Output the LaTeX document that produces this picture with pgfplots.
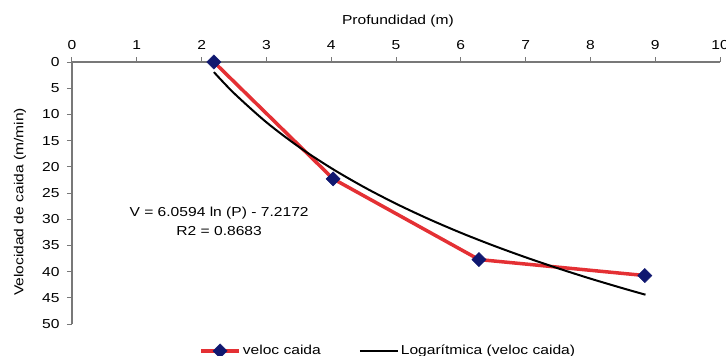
\documentclass[border=0pt]{standalone}
\usepackage{fontspec}
\setmainfont{Liberation Sans}[FakeStretch=1.2]
\usepackage{pgfplots}
\pgfplotsset{compat=1.18}
\definecolor{redline}{RGB}{228,48,52}
\definecolor{navy}{RGB}{16,24,112}
\definecolor{axgray}{RGB}{120,120,120}
\begin{document}
\fontsize{13bp}{15bp}\selectfont
\begin{tikzpicture}
\useasboundingbox (-72bp,62bp) rectangle (654bp,-294bp);
\begin{axis}[
  at={(0,0)}, anchor=north west,
  scale only axis, width=648bp, height=262bp,
  xmin=0, xmax=10, ymin=0, ymax=50, y dir=reverse,
  axis x line*=top, axis y line*=left,
  axis line style={axgray, line width=1.2bp, -},
  tick style={axgray, line width=1bp},
  tick align=outside, major tick length=5bp,
  xtick={0,1,...,10}, ytick={0,5,...,50},
  xticklabel style={yshift=3bp},
  yticklabel style={xshift=-3bp},
  /pgf/number format/assume math mode=true,
  ticklabel style={font=\fontsize{13bp}{15bp}\selectfont},
  xlabel={Profundidad (m)},
  xlabel style={at={(axis description cs:0.503,1)}, anchor=center, yshift=41bp},
  ylabel={Velocidad de caida (m/min)},
  ylabel style={at={(axis description cs:0,0.466)}, anchor=center, yshift=52bp},
  legend columns=2,
  legend cell align=left,
  legend style={draw=none, fill=none, at={(axis description cs:0.488,-0.103)}, anchor=center,
    font=\fontsize{13bp}{15bp}\selectfont,
    /tikz/every even column/.append style={column sep=36bp}},
  legend image code/.code={\draw[#1, mark repeat=2, mark phase=2] plot coordinates {(0bp,0bp)(19bp,0bp)(38bp,0bp)};},
  clip=false,
]
\addplot[redline, line width=3.5bp, mark=square*, mark size=5bp,
  mark options={navy, fill=navy, draw=navy, rotate=45, line width=0.5bp}]
  coordinates {(2.19,0) (4.03,22.3) (6.28,37.7) (8.84,40.75)};
\addlegendentry{veloc caida}
\addplot[black, line width=2bp, smooth]
  coordinates {(2.19,1.93) (2.5,5.95) (3,11.50) (3.5,16.19) (4,20.25) (4.5,23.83)
  (5,27.04) (5.5,29.94) (6,32.59) (6.5,35.02) (7,37.27) (7.5,39.37) (8,41.34)
  (8.5,43.18) (8.85,44.41)};
\addlegendentry{Logarítmica (veloc caida)}
\node[align=center, font=\fontsize{13bp}{19bp}\selectfont] at (axis cs:2.27,30.5)
  {V = 6.0594 ln (P) - 7.2172\\R2 = 0.8683};
\end{axis}
\end{tikzpicture}
\end{document}
